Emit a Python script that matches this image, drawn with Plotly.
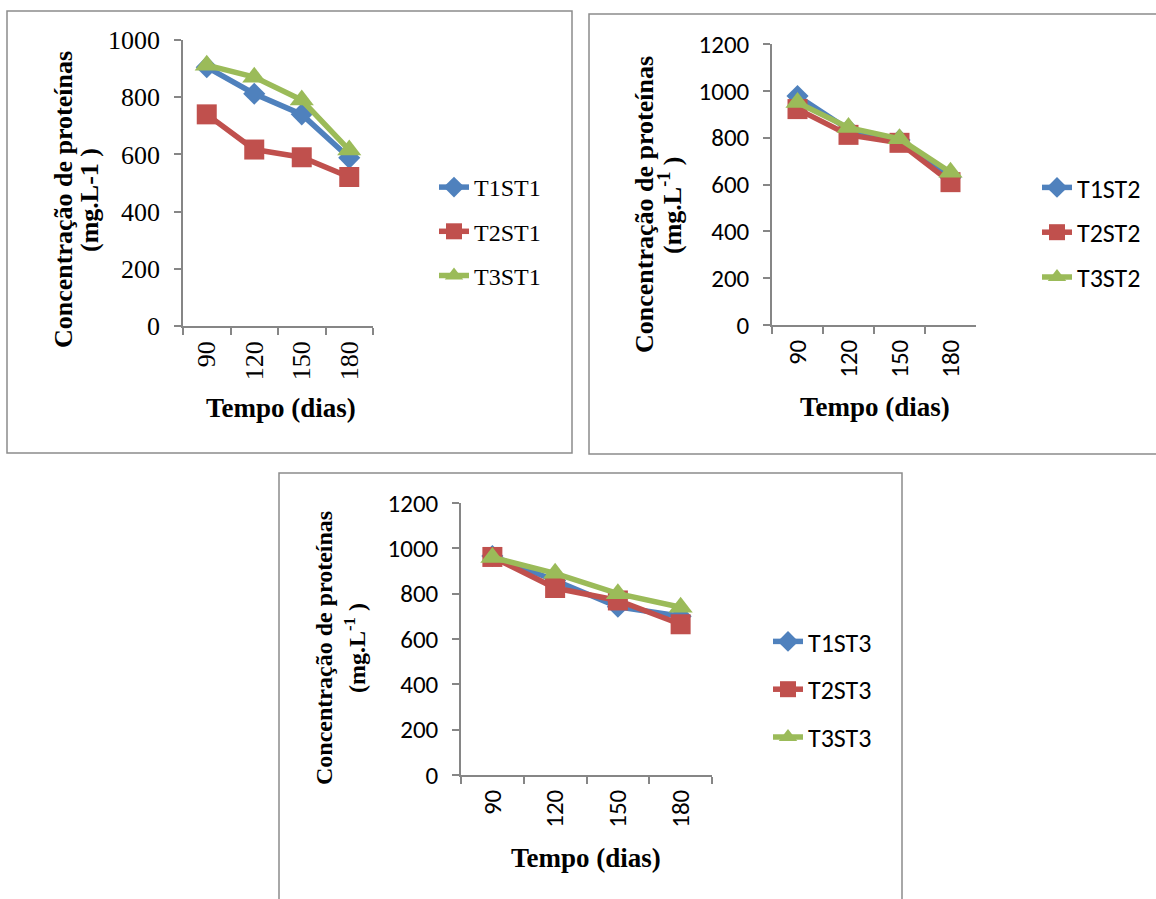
import plotly.graph_objects as go

W, H = 1156, 899

days = ["90", "120", "150", "180"]

t1st1 = [905, 812, 740, 588]
t2st1 = [740, 617, 590, 521]
t3st1 = [912, 870, 790, 615]

t1st2 = [978, 835, 790, 630]
t2st2 = [922, 812, 778, 610]
t3st2 = [950, 843, 795, 652]

t1st3 = [966, 858, 742, 700]
t2st3 = [962, 825, 770, 665]
t3st3 = [960, 890, 800, 740]

names1 = ["T1ST1", "T2ST1", "T3ST1"]
names2 = ["T1ST2", "T2ST2", "T3ST2"]
names3 = ["T1ST3", "T2ST3", "T3ST3"]

colors = ["#4F81BD", "#C0504D", "#9BBB59"]
symbols = ["diamond", "square", "triangle-up"]
msizes = [17, 20, 21]

SERIF = "Liberation Serif, Times New Roman, serif"
SANS = "Carlito, Calibri, Lato, sans-serif"
AXC = "#868686"


def px(x):
    return x / W


def py(y):
    return 1 - y / H


fig = go.Figure()

panels = [
    dict(series=[t1st1, t2st1, t3st1], names=names1, ax="", legend="legend"),
    dict(series=[t1st2, t2st2, t3st2], names=names2, ax="2", legend="legend2"),
    dict(series=[t1st3, t2st3, t3st3], names=names3, ax="3", legend="legend3"),
]

for p in panels:
    for i, (vals, nm) in enumerate(zip(p["series"], p["names"])):
        fig.add_trace(go.Scatter(
            x=days, y=vals, name=nm, mode="lines+markers",
            xaxis="x" + p["ax"], yaxis="y" + p["ax"],
            line=dict(color=colors[i], width=5.5),
            marker=dict(symbol=symbols[i], size=msizes[i], color=colors[i]),
            legend=p["legend"], legendgroup=nm,
        ))

# axis geometry (pixels)
geo = {
    "": dict(x0=183, x1=373, y0=326, y1=40, ymax=1000, font=SERIF, tfs=26),
    "2": dict(x0=772, x1=976, y0=325, y1=44, ymax=1200, font=SANS, tfs=25),
    "3": dict(x0=461, x1=712, y0=775, y1=503, ymax=1200, font=SANS, tfs=25),
}

layout = dict(
    width=W, height=H, margin=dict(l=0, r=0, t=0, b=0, autoexpand=False),
    paper_bgcolor="white", plot_bgcolor="white", showlegend=True,
)

for k, g in geo.items():
    layout["xaxis" + k] = dict(
        domain=[px(g["x0"]), px(g["x1"])], anchor="y" + k,
        type="category", range=[-0.5, 3.5], tickson="boundaries",
        showline=True, linecolor=AXC, linewidth=1.5,
        ticks="outside", ticklen=7, tickcolor=AXC, tickwidth=1.5,
        tickangle=-90, showgrid=False, zeroline=False,
        tickfont=dict(family=g["font"], size=g["tfs"], color="black"),
        ticklabelstandoff=3, automargin=False,
    )
    layout["yaxis" + k] = dict(
        domain=[py(g["y0"]), py(g["y1"])], anchor="x" + k,
        range=[0, g["ymax"]], dtick=200,
        showline=True, linecolor=AXC, linewidth=1.5,
        ticks="outside", ticklen=7, tickcolor=AXC, tickwidth=1.5,
        showgrid=False, zeroline=False,
        tickfont=dict(family=g["font"], size=g["tfs"], color="black"),
        ticklabelstandoff=9, automargin=False,
    )

layout["legend"] = dict(x=px(434), y=py(165), xanchor="left", yanchor="top",
                        font=dict(family=SERIF, size=24, color="black"),
                        tracegroupgap=10, bgcolor="rgba(0,0,0,0)")
layout["legend2"] = dict(x=px(1037), y=py(164), xanchor="left", yanchor="top",
                         font=dict(family=SANS, size=26, color="black"),
                         tracegroupgap=8, bgcolor="rgba(0,0,0,0)")
layout["legend3"] = dict(x=px(768), y=py(618), xanchor="left", yanchor="top",
                         font=dict(family=SANS, size=26, color="black"),
                         tracegroupgap=11, bgcolor="rgba(0,0,0,0)")

fig.update_layout(**layout)

# panel borders
for (x0, y0, x1, y1) in [(7, 11, 572, 453), (589, 14, 1160, 454), (279, 473, 902, 905)]:
    fig.add_shape(type="rect", xref="paper", yref="paper",
                  x0=px(x0), x1=px(x1), y0=py(y0), y1=py(y1),
                  line=dict(color="#8c8c8c", width=1.5), fillcolor="rgba(0,0,0,0)",
                  layer="below")

# axis titles
titles = [
    dict(l1x=63, l2x=89, yc=200, line2="(mg.L-1 )", fs=26, tx=281, ty=408),
    dict(l1x=644, l2x=670, yc=205, line2="(mg.L<sup>-1</sup> )", fs=26, tx=875, ty=407),
    dict(l1x=324, l2x=355, yc=648, line2="(mg.L<sup>-1</sup> )", fs=24, tx=586, ty=858),
]
for t in titles:
    fnt = dict(family=SERIF, size=t["fs"], color="black")
    fig.add_annotation(text="<b>Concentração de proteínas</b>", textangle=-90,
                       x=px(t["l1x"]), y=py(t["yc"]), xref="paper", yref="paper",
                       showarrow=False, font=fnt, xanchor="center", yanchor="middle")
    fig.add_annotation(text="<b>" + t["line2"] + "</b>", textangle=-90,
                       x=px(t["l2x"]), y=py(t["yc"]), xref="paper", yref="paper",
                       showarrow=False, font=fnt, xanchor="center", yanchor="middle")
    fig.add_annotation(text="<b>Tempo (dias)</b>",
                       x=px(t["tx"]), y=py(t["ty"]), xref="paper", yref="paper",
                       showarrow=False, font=dict(family=SERIF, size=27, color="black"),
                       xanchor="center", yanchor="middle")

fig.write_html("out.html")
